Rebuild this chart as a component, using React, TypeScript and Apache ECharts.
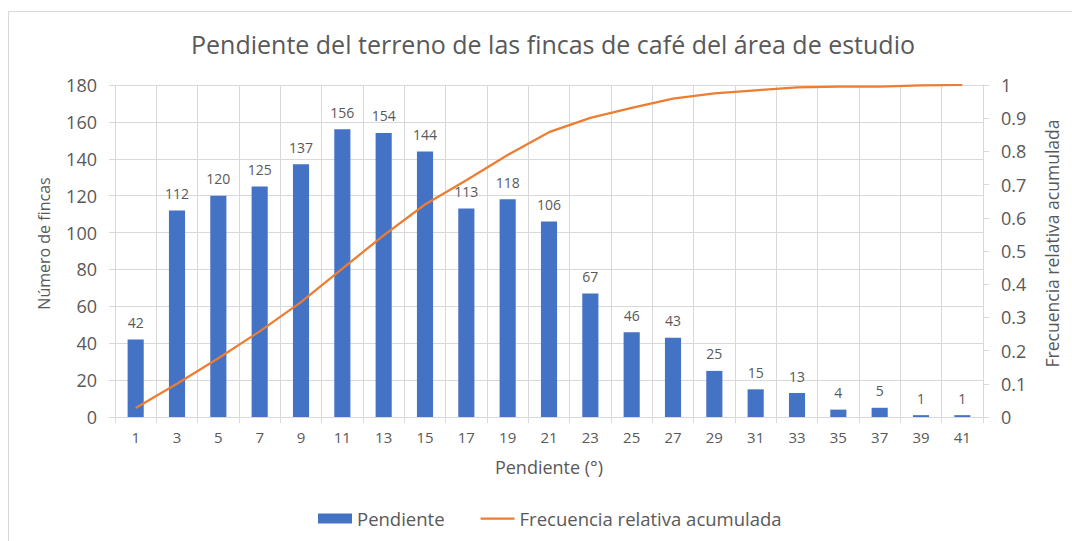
import React, { useEffect, useRef } from "react";
import * as echarts from "echarts";

const categories = ["1","3","5","7","9","11","13","15","17","19","21","23","25","27","29","31","33","35","37","39","41"];
const pendiente = [42,112,120,125,137,156,154,144,113,118,106,67,46,43,25,15,13,4,5,1,1];
const frecuenciaAcumulada = [0.027,0.1,0.177,0.258,0.346,0.447,0.547,0.64,0.713,0.789,0.858,0.901,0.931,0.959,0.975,0.984,0.993,0.995,0.995,0.999,1];

const FONT = "'Open Sans', sans-serif";
const GRAY = "#595959";
const LINE_ICON = "path://M0,0H0.01V0.01H0Z M0,4H34V6.2H0Z M0,10H0.01V10.01H0Z";

export default function App() {
  const ref = useRef<HTMLDivElement>(null);
  useEffect(() => {
    const chart = echarts.init(ref.current!, null, { renderer: "svg" });
    chart.setOption({
      animation: false,
      backgroundColor: "#ffffff",
      textStyle: { fontFamily: FONT, color: GRAY },
      title: {
        text: "Pendiente del terreno de las fincas de café del área de estudio",
        left: 548,
        top: 26,
        textAlign: "center",
        textStyle: { fontFamily: FONT, fontSize: 25, fontWeight: "normal", color: GRAY },
      },
      graphic: [
        {
          type: "rect",
          shape: { x: 8.5, y: 11.5, width: 1200, height: 700 },
          style: { fill: "none", stroke: "#d9d9d9", lineWidth: 1 },
          silent: true,
        },
      ],
      legend: {
        bottom: 8,
        left: 313,
        itemGap: 36,
        itemWidth: 34,
        itemHeight: 10,
        textStyle: { fontFamily: FONT, fontSize: 18.5, color: GRAY },
        data: [
          { name: "Pendiente", icon: "rect" },
          { name: "Frecuencia relativa acumulada", icon: LINE_ICON },
        ],
      },
      grid: { left: 115, right: 89, top: 85, bottom: 124, containLabel: false },
      xAxis: {
        type: "category",
        data: categories,
        name: "Pendiente (°)",
        nameLocation: "middle",
        nameGap: 41,
        nameTextStyle: { fontFamily: FONT, fontSize: 18, color: GRAY },
        axisLine: { lineStyle: { color: "#d9d9d9" } },
        axisTick: { show: true, alignWithLabel: false, length: 6, lineStyle: { color: "#d9d9d9" } },
        axisLabel: { color: GRAY, fontSize: 15, margin: 12, fontFamily: FONT },
        splitLine: { show: true, lineStyle: { color: "#d9d9d9" } },
      },
      yAxis: [
        {
          type: "value",
          min: 0,
          max: 180,
          interval: 20,
          name: "Número de fincas",
          nameLocation: "middle",
          nameGap: 63,
          nameTextStyle: { fontFamily: FONT, fontSize: 16, color: GRAY, padding: [0, 0, 0, 15] },
          axisLine: { show: false },
          axisTick: { show: true, length: 6, lineStyle: { color: "#d9d9d9" } },
          axisLabel: { color: GRAY, fontSize: 18, margin: 18, fontFamily: FONT },
          splitLine: { show: true, lineStyle: { color: "#d9d9d9" } },
        },
        {
          type: "value",
          min: 0,
          max: 1,
          interval: 0.1,
          name: "Frecuencia relativa acumulada",
          nameLocation: "middle",
          nameGap: 60,
          nameRotate: 90,
          nameTextStyle: { fontFamily: FONT, fontSize: 17.5, color: GRAY, padding: [0, 0, 0, 15] },
          position: "right",
          axisLine: { show: true, lineStyle: { color: "#d9d9d9" } },
          axisTick: { show: true, length: 6, lineStyle: { color: "#d9d9d9" } },
          axisLabel: { color: GRAY, fontSize: 18, margin: 18, fontFamily: FONT, formatter: (v: number) => String(Math.round(v * 10) / 10) },
          splitLine: { show: false },
        },
      ],
      series: [
        {
          name: "Pendiente",
          type: "bar",
          data: pendiente,
          barWidth: "39%",
          itemStyle: { color: "#4472C4" },
          label: { show: true, position: "top", distance: 10, color: GRAY, fontSize: 14, fontFamily: FONT },
        },
        {
          name: "Frecuencia relativa acumulada",
          type: "line",
          yAxisIndex: 1,
          data: frecuenciaAcumulada,
          showSymbol: false,
          symbol: "none",
          lineStyle: { color: "#ED7D31", width: 2.25 },
          itemStyle: { color: "#ED7D31" },
        },
      ],
    });
    return () => chart.dispose();
  }, []);
  return <div ref={ref} style={{ position: "fixed", left: 0, top: 0, width: 1072, height: 541 }} />;
}
